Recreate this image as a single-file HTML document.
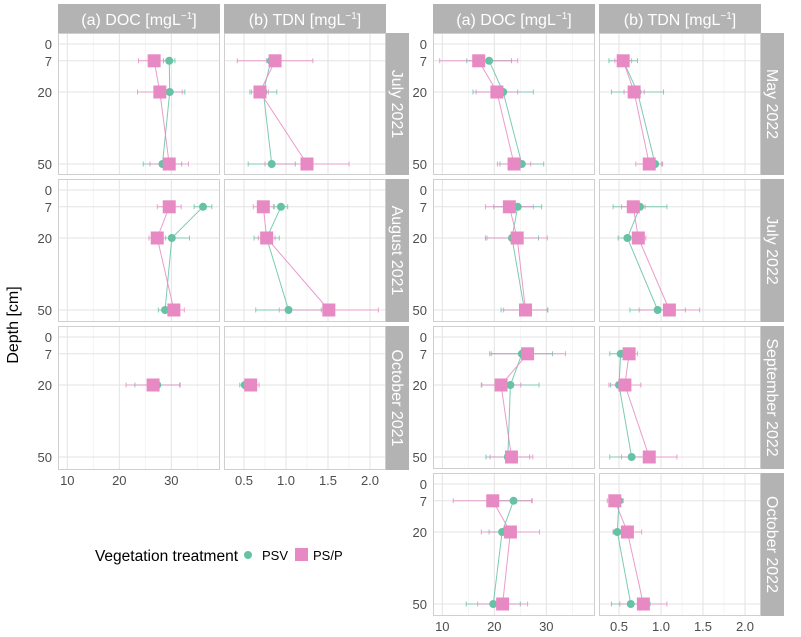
<!DOCTYPE html>
<html><head><meta charset="utf-8">
<style>
html,body{margin:0;padding:0;background:#fff;}
svg{display:block;font-family:"Liberation Sans",sans-serif;}
</style></head>
<body>
<svg id="chart" width="801" height="637" viewBox="0 0 801 637"></svg>
<script>
const depths = [7, 20, 50];
const yTicks = [0, 7, 20, 50];
const docTicks = [10, 20, 30];
const docTickLabels = ["10", "20", "30"];
const tdnTicks = [0.5, 1.0, 1.5, 2.0];
const tdnTickLabels = ["0.5", "1.0", "1.5", "2.0"];
const months = ["July 2021", "August 2021", "October 2021", "May 2022", "July 2022", "September 2022", "October 2022"];

// DOC values (mg/L) at depths 7, 20, 50
const jul21DocPsv = [29.6, 29.7, 28.3], jul21DocPsvErr = [1.1, 2.9, 3.7];
const jul21DocPsp = [26.7, 27.8, 29.6], jul21DocPspErr = [3.0, 4.3, 3.7];
const aug21DocPsv = [36.1, 30.1, 28.8], aug21DocPsvErr = [1.7, 3.4, 1.3];
const aug21DocPsp = [29.6, 27.3, 30.5], aug21DocPspErr = [2.3, 1.6, 2.0];
const oct21DocPsv = [null, 27.3, null], oct21DocPsvErr = [0, 4.3, 0];
const oct21DocPsp = [null, 26.5, null], oct21DocPspErr = [0, 5.2, 0];
const may22DocPsv = [19.0, 21.7, 25.3], may22DocPsvErr = [4.3, 5.8, 4.2];
const may22DocPsp = [17.0, 20.5, 23.8], may22DocPspErr = [7.5, 4.0, 3.2];
const jul22DocPsv = [24.5, 23.4, 25.8], jul22DocPsvErr = [4.6, 5.1, 4.5];
const jul22DocPsp = [22.9, 24.4, 26.0], jul22DocPspErr = [4.6, 5.8, 4.2];
const sep22DocPsv = [25.3, 23.1, 22.6], sep22DocPsvErr = [5.9, 5.5, 4.2];
const sep22DocPsp = [26.4, 21.3, 23.3], sep22DocPspErr = [7.3, 3.8, 4.1];
const oct22DocPsv = [23.7, 21.5, 19.8], oct22DocPsvErr = [3.5, 2.5, 5.2];
const oct22DocPsp = [19.7, 23.1, 21.6], oct22DocPspErr = [7.6, 5.6, 4.8];
// TDN values (mg/L)
const jul21TdnPsv = [0.82, 0.73, 0.83], jul21TdnPsvErr = [0.05, 0.16, 0.28];
const jul21TdnPsp = [0.87, 0.69, 1.25], jul21TdnPspErr = [0.45, 0.10, 0.50];
const aug21TdnPsv = [0.94, 0.77, 1.03], aug21TdnPsvErr = [0.08, 0.15, 0.39];
const aug21TdnPsp = [0.73, 0.77, 1.51], aug21TdnPspErr = [0.12, 0.10, 0.59];
const oct21TdnPsv = [null, 0.51, null], oct21TdnPsvErr = [0, 0.06, 0];
const oct21TdnPsp = [null, 0.58, null], oct21TdnPspErr = [0, 0.10, 0];
const may22TdnPsv = [0.55, 0.72, 0.93], may22TdnPsvErr = [0.17, 0.31, 0.08];
const may22TdnPsp = [0.55, 0.68, 0.86], may22TdnPspErr = [0.10, 0.12, 0.16];
const jul22TdnPsv = [0.75, 0.60, 0.96], jul22TdnPsvErr = [0.32, 0.11, 0.33];
const jul22TdnPsp = [0.67, 0.73, 1.10], jul22TdnPspErr = [0.14, 0.09, 0.36];
const sep22TdnPsv = [0.52, 0.50, 0.65], sep22TdnPsvErr = [0.13, 0.10, 0.26];
const sep22TdnPsp = [0.62, 0.57, 0.86], sep22TdnPspErr = [0.10, 0.19, 0.33];
const oct22TdnPsv = [0.50, 0.48, 0.64], oct22TdnPsvErr = [0.05, 0.05, 0.23];
const oct22TdnPsp = [0.45, 0.60, 0.79], oct22TdnPspErr = [0.09, 0.17, 0.28];

const docPsv = [jul21DocPsv, aug21DocPsv, oct21DocPsv, may22DocPsv, jul22DocPsv, sep22DocPsv, oct22DocPsv];
const docPsvErr = [jul21DocPsvErr, aug21DocPsvErr, oct21DocPsvErr, may22DocPsvErr, jul22DocPsvErr, sep22DocPsvErr, oct22DocPsvErr];
const docPsp = [jul21DocPsp, aug21DocPsp, oct21DocPsp, may22DocPsp, jul22DocPsp, sep22DocPsp, oct22DocPsp];
const docPspErr = [jul21DocPspErr, aug21DocPspErr, oct21DocPspErr, may22DocPspErr, jul22DocPspErr, sep22DocPspErr, oct22DocPspErr];
const tdnPsv = [jul21TdnPsv, aug21TdnPsv, oct21TdnPsv, may22TdnPsv, jul22TdnPsv, sep22TdnPsv, oct22TdnPsv];
const tdnPsvErr = [jul21TdnPsvErr, aug21TdnPsvErr, oct21TdnPsvErr, may22TdnPsvErr, jul22TdnPsvErr, sep22TdnPsvErr, oct22TdnPsvErr];
const tdnPsp = [jul21TdnPsp, aug21TdnPsp, oct21TdnPsp, may22TdnPsp, jul22TdnPsp, sep22TdnPsp, oct22TdnPsp];
const tdnPspErr = [jul21TdnPspErr, aug21TdnPspErr, oct21TdnPspErr, may22TdnPspErr, jul22TdnPspErr, sep22TdnPspErr, oct22TdnPspErr];

const NS = "http://www.w3.org/2000/svg";
const svg = document.getElementById("chart");
const GREEN = "#66c2a5", PINK = "#e78ac3";
function mk(tag, attrs, parent) {
  const e = document.createElementNS(NS, tag);
  for (const k in attrs) e.setAttribute(k, attrs[k]);
  (parent || svg).appendChild(e);
  return e;
}
const groups = [
  {docX: 58, tdnX: 224, stripX: 386, stripW: 23, labelX: 52, rows: [[33,175],[179,322],[326,470]]},
  {docX: 433, tdnX: 599, stripX: 761, stripW: 23, labelX: 427, rows: [[33,175],[179,322],[326,469],[473,616]]}
];
const PW = 162;
function xDoc(left, v) { return left + 9.3 + (v - 10) * 5.2; }
function xTdn(left, v) { return left + 20 + (v - 0.5) * 84; }
function yDepth(top, d) { return top + 11 + d * 2.4; }

function drawPanel(left, top, bottom, isDoc, psv, psvErr, psp, pspErr, name) {
  const g = mk("g", {}, svg);
  
  
  mk("rect", {x: left, y: top, width: PW, height: bottom - top, fill: "#fff"}, g);
  const xf = isDoc ? (v => xDoc(left, v)) : (v => xTdn(left, v));
  const minor = isDoc ? [15, 25, 35] : [0.75, 1.25, 1.75];
  const major = isDoc ? docTicks : tdnTicks;
  minor.forEach(v => mk("line", {x1: xf(v), x2: xf(v), y1: top, y2: bottom, stroke: "#f1f1f1", "stroke-width": 0.8}, g));
  major.forEach(v => mk("line", {x1: xf(v), x2: xf(v), y1: top, y2: bottom, stroke: "#e3e3e3", "stroke-width": 1}, g));
  yTicks.forEach(d => mk("line", {x1: left, x2: left + PW, y1: yDepth(top, d), y2: yDepth(top, d), stroke: "#e3e3e3", "stroke-width": 1}, g));
  const series = [[psv, psvErr, GREEN, "psv"], [psp, pspErr, PINK, "psp"]];
  series.forEach(([vals, errs, col, sname]) => {
    const pts = [];
    vals.forEach((v, i) => { if (v !== null) pts.push([xf(v), yDepth(top, depths[i])]); });
    if (pts.length > 1) {
      const pl = mk("polyline", {points: pts.map(p => p.join(",")).join(" "), fill: "none", stroke: col, "stroke-width": 1, opacity: 0.85}, g);
      
      
    }
    vals.forEach((v, i) => {
      if (v === null) return;
      const y = yDepth(top, depths[i]);
      const x1 = xf(v - errs[i]), x2 = xf(v + errs[i]);
      const eb = mk("path", {d: `M${x1},${y}H${x2}M${x1},${y-2.5}V${y+2.5}M${x2},${y-2.5}V${y+2.5}`, stroke: col, "stroke-width": 1, fill: "none", opacity: 0.8}, g);
      
      
    });
  });
  series.forEach(([vals, errs, col, sname]) => {
    vals.forEach((v, i) => {
      if (v === null) return;
      const x = xf(v), y = yDepth(top, depths[i]);
      let m;
      if (sname === "psv") m = mk("circle", {cx: x, cy: y, r: 4, fill: col}, g);
      else m = mk("rect", {x: x - 6.5, y: y - 6.5, width: 13, height: 13, fill: col}, g);
      
      
    });
  });
  mk("rect", {x: left + 0.5, y: top + 0.5, width: PW - 1, height: bottom - top - 1, fill: "none", stroke: "#cfcfcf", "stroke-width": 1}, g);
}

let mi = 0;
groups.forEach((G, gi) => {
  [[G.docX, "(a) DOC [mgL", "doc"], [G.tdnX, "(b) TDN [mgL", "tdn"]].forEach(([x, t, k]) => {
    const r = mk("rect", {x: x, y: 4, width: PW, height: 29, fill: "#b3b3b3"});
    
    
    const tx = mk("text", {x: x + PW / 2, y: 25, "text-anchor": "middle", fill: "#fff", "font-size": 16});
    tx.textContent = t;
    const sup = mk("tspan", {"font-size": 10, dy: -6}, tx); sup.textContent = "−1";
    const cl = mk("tspan", {dy: 6}, tx); cl.textContent = "]";
  });
  G.rows.forEach(([top, bottom], ri) => {
    const m = mi++;
    drawPanel(G.docX, top, bottom, true, docPsv[m], docPsvErr[m], docPsp[m], docPspErr[m], "doc-panel-" + m);
    drawPanel(G.tdnX, top, bottom, false, tdnPsv[m], tdnPsvErr[m], tdnPsp[m], tdnPspErr[m], "tdn-panel-" + m);
    const s = mk("rect", {x: G.stripX, y: top, width: G.stripW, height: bottom - top, fill: "#b3b3b3"});
    
    
    const cx = G.stripX + G.stripW / 2 - 5.5, cy = (top + bottom) / 2;
    const st = mk("text", {x: cx, y: cy, transform: `rotate(90 ${cx} ${cy})`, "text-anchor": "middle", fill: "#fff", "font-size": 16});
    st.textContent = months[m];
    yTicks.forEach(d => {
      const yl = mk("text", {x: G.labelX, y: yDepth(top, d) + 5, "text-anchor": "end", fill: "#4d4d4d", "font-size": 13});
      yl.textContent = String(d);
    });
    if (ri === G.rows.length - 1) {
      docTicks.forEach((v, i) => {
        const t = mk("text", {x: xDoc(G.docX, v), y: bottom + 15, "text-anchor": "middle", fill: "#4d4d4d", "font-size": 13});
        t.textContent = docTickLabels[i];
      });
      tdnTicks.forEach((v, i) => {
        const t = mk("text", {x: xTdn(G.tdnX, v), y: bottom + 15, "text-anchor": "middle", fill: "#4d4d4d", "font-size": 13});
        t.textContent = tdnTickLabels[i];
      });
    }
  });
});
const yt = mk("text", {x: 18, y: 325, transform: "rotate(-90 18 325)", "text-anchor": "middle", fill: "#000", "font-size": 16});
yt.textContent = "Depth [cm]";


const lg = mk("g", {});


const lt = mk("text", {x: 238, y: 561, fill: "#000", "font-size": 15.5, "text-anchor": "end"}, lg); lt.textContent = "Vegetation treatment";
const ld = mk("circle", {cx: 248, cy: 555, r: 4, fill: GREEN}, lg);


const l1 = mk("text", {x: 262, y: 560, fill: "#000", "font-size": 13}, lg); l1.textContent = "PSV";
const ls = mk("rect", {x: 295, y: 548, width: 13, height: 13, fill: PINK}, lg);


const l2 = mk("text", {x: 313, y: 560, fill: "#000", "font-size": 13}, lg); l2.textContent = "PS/P";
</script>
</body></html>
